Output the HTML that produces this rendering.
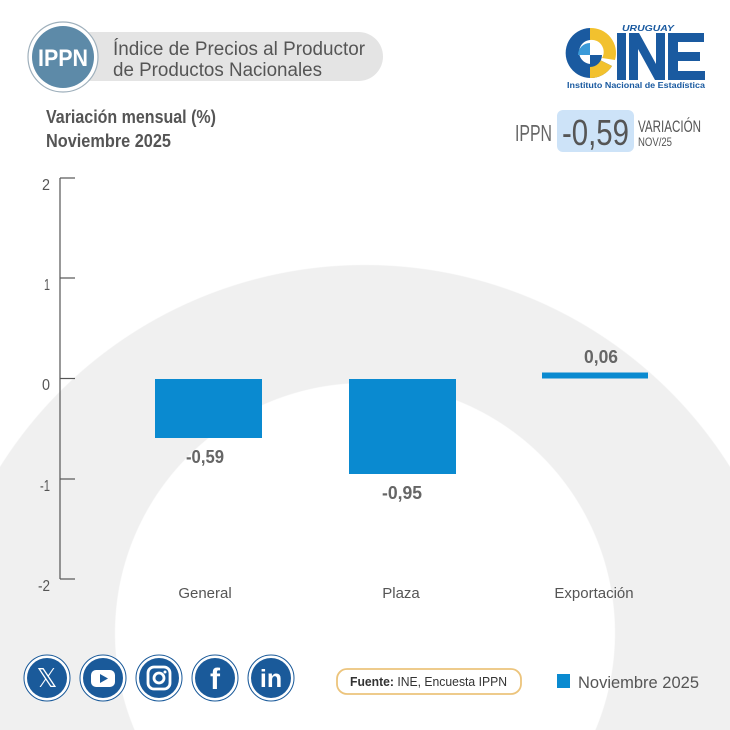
<!DOCTYPE html>
<html><head><meta charset="utf-8"><style>
html,body{margin:0;padding:0;width:730px;height:730px;overflow:hidden;}
body{background:
radial-gradient(circle 250px at 365px 633px,#fff 249.5px,rgba(255,255,255,0) 250.5px),
radial-gradient(circle 431px at 365px 696px,#f0f0f0 430.5px,#fff 431.5px);}
svg{display:block;font-family:"Liberation Sans",sans-serif;}
</style></head><body>
<svg width="730" height="730" viewBox="0 0 730 730" xmlns="http://www.w3.org/2000/svg">

<!-- header pill -->
<rect x="50" y="32" width="333" height="49" rx="24.5" fill="#e4e4e4"/>
<circle cx="63" cy="57" r="35" fill="#fff" stroke="#9fb0bc" stroke-width="1.2"/>
<circle cx="63" cy="57" r="31" fill="#5d8aa8"/>
<text x="63" y="66" text-anchor="middle" font-size="24" font-weight="bold" fill="#fff" textLength="50" lengthAdjust="spacingAndGlyphs">IPPN</text>
<text x="113" y="55" font-size="19" fill="#555" textLength="252" lengthAdjust="spacingAndGlyphs">Índice de Precios al Productor</text>
<text x="113" y="76" font-size="19" fill="#555" textLength="209" lengthAdjust="spacingAndGlyphs">de Productos Nacionales</text>

<!-- logo -->
<g>
<path d="M590 28 A25 25 0 1 0 612 66 L600 60 A12 12 0 1 1 590 40 Z" fill="#1a5aa0"/>
<path d="M590 28 A25 25 0 0 1 615 60 L602 58 A12 12 0 0 0 590 40 Z" fill="#f2c12e"/>
<path d="M600 60 L612 66 A25 25 0 0 1 590 78 L590 66 Z" fill="#f2c12e"/>
<path d="M578 55 L590 55 L590 43 A12 12 0 0 0 578 55 Z" fill="#3a9ad9"/>
<path d="M590 55 L602 55 A12 12 0 0 1 590 67 Z" fill="#1a5aa0"/>
<text x="622" y="31" font-size="8" font-weight="bold" font-style="italic" fill="#1a5aa0" textLength="52" lengthAdjust="spacingAndGlyphs">URUGUAY</text>
<rect x="617" y="33" width="9" height="47" fill="#1a5aa0"/>
<path d="M629 33 L639 33 L656 64 L656 33 L665 33 L665 80 L655 80 L638 49 L638 80 L629 80 Z" fill="#1a5aa0"/>
<path d="M668 33 L704 33 L704 42 L678 42 L678 52 L700 52 L700 61 L678 61 L678 71 L705 71 L705 80 L668 80 Z" fill="#1a5aa0"/>
<text x="567" y="88" font-size="8.5" font-weight="bold" fill="#1a5aa0" textLength="138" lengthAdjust="spacingAndGlyphs">Instituto Nacional de Estadística</text>
</g>

<!-- subtitle -->
<text x="46" y="123" font-size="18" font-weight="bold" fill="#555" textLength="170" lengthAdjust="spacingAndGlyphs">Variación mensual (%)</text>
<text x="46" y="147" font-size="18" font-weight="bold" fill="#555" textLength="125" lengthAdjust="spacingAndGlyphs">Noviembre 2025</text>

<!-- IPPN value -->
<text x="515" y="141" font-size="23" fill="#666" textLength="37" lengthAdjust="spacingAndGlyphs">IPPN</text>
<rect x="557" y="110" width="77" height="42" rx="6" fill="#cde3f8"/>
<text x="562" y="145" font-size="36" fill="#555" textLength="67" lengthAdjust="spacingAndGlyphs">-0,59</text>
<text x="638" y="132" font-size="17" fill="#555" textLength="63" lengthAdjust="spacingAndGlyphs">VARIACIÓN</text>
<text x="638" y="146" font-size="12" fill="#555" textLength="34" lengthAdjust="spacingAndGlyphs">NOV/25</text>

<!-- axis -->
<g stroke="#555" stroke-width="1.2" fill="none">
<line x1="60" y1="178" x2="60" y2="579"/>
<line x1="60" y1="178" x2="75" y2="178"/>
<line x1="60" y1="278" x2="75" y2="278"/>
<line x1="60" y1="378.5" x2="75" y2="378.5"/>
<line x1="60" y1="479" x2="75" y2="479"/>
<line x1="60" y1="579" x2="75" y2="579"/>
</g>
<g font-size="16" fill="#555" text-anchor="end">
<text x="50" y="190" textLength="8" lengthAdjust="spacingAndGlyphs">2</text>
<text x="50" y="290" textLength="6" lengthAdjust="spacingAndGlyphs">1</text>
<text x="50" y="390" textLength="8" lengthAdjust="spacingAndGlyphs">0</text>
<text x="50" y="491" textLength="10" lengthAdjust="spacingAndGlyphs">-1</text>
<text x="50" y="591" textLength="12" lengthAdjust="spacingAndGlyphs">-2</text>
</g>

<!-- bars -->
<rect x="155" y="379" width="107" height="59" fill="#0a8ad0"/>
<rect x="349" y="379" width="107" height="95" fill="#0a8ad0"/>
<rect x="542" y="372.5" width="106" height="6" fill="#0a8ad0"/>
<g font-size="18" font-weight="bold" fill="#666" text-anchor="middle">
<text x="205" y="463" textLength="38" lengthAdjust="spacingAndGlyphs">-0,59</text>
<text x="402" y="499" textLength="40" lengthAdjust="spacingAndGlyphs">-0,95</text>
<text x="601" y="363" textLength="34" lengthAdjust="spacingAndGlyphs">0,06</text>
</g>
<g font-size="15" fill="#555" text-anchor="middle">
<text x="205" y="598">General</text>
<text x="401" y="598">Plaza</text>
<text x="594" y="598">Exportación</text>
</g>

<!-- social -->
<g>
<g transform="translate(47,678)"><circle r="23" fill="#fff" stroke="#1a5a9a" stroke-width="1"/><circle r="20" fill="#1a5a9a"/><text y="9" text-anchor="middle" font-size="26" fill="#fff">𝕏</text></g>
<g transform="translate(103,678)"><circle r="23" fill="#fff" stroke="#1a5a9a" stroke-width="1"/><circle r="20" fill="#1a5a9a"/><rect x="-12" y="-8" width="24" height="17" rx="5" fill="#fff"/><path d="M-3 -4 L5 0.5 L-3 5 Z" fill="#1a5a9a"/></g>
<g transform="translate(159,678)"><circle r="23" fill="#fff" stroke="#1a5a9a" stroke-width="1"/><circle r="20" fill="#1a5a9a"/><rect x="-11" y="-11" width="22" height="22" rx="6" fill="none" stroke="#fff" stroke-width="2.8"/><circle r="5" fill="none" stroke="#fff" stroke-width="2.8"/><circle cx="6" cy="-6" r="1.5" fill="#fff"/></g>
<g transform="translate(215,678)"><circle r="23" fill="#fff" stroke="#1a5a9a" stroke-width="1"/><circle r="20" fill="#1a5a9a"/><text y="11" text-anchor="middle" font-size="30" font-weight="bold" fill="#fff">f</text></g>
<g transform="translate(271,678)"><circle r="23" fill="#fff" stroke="#1a5a9a" stroke-width="1"/><circle r="20" fill="#1a5a9a"/><text y="9" text-anchor="middle" font-size="25" font-weight="bold" fill="#fff">in</text></g>
</g>

<!-- fuente -->
<rect x="337" y="669" width="184" height="25" rx="10" fill="#fff" stroke="#ecc47c" stroke-width="1.8"/>
<text x="350" y="686" font-size="13" fill="#333" textLength="157" lengthAdjust="spacingAndGlyphs"><tspan font-weight="bold">Fuente:</tspan> INE, Encuesta IPPN</text>

<rect x="557" y="674" width="13" height="14" fill="#0a8ad0"/>
<text x="578" y="688" font-size="17" fill="#555" textLength="121" lengthAdjust="spacingAndGlyphs">Noviembre 2025</text>
</svg>
</body></html>
